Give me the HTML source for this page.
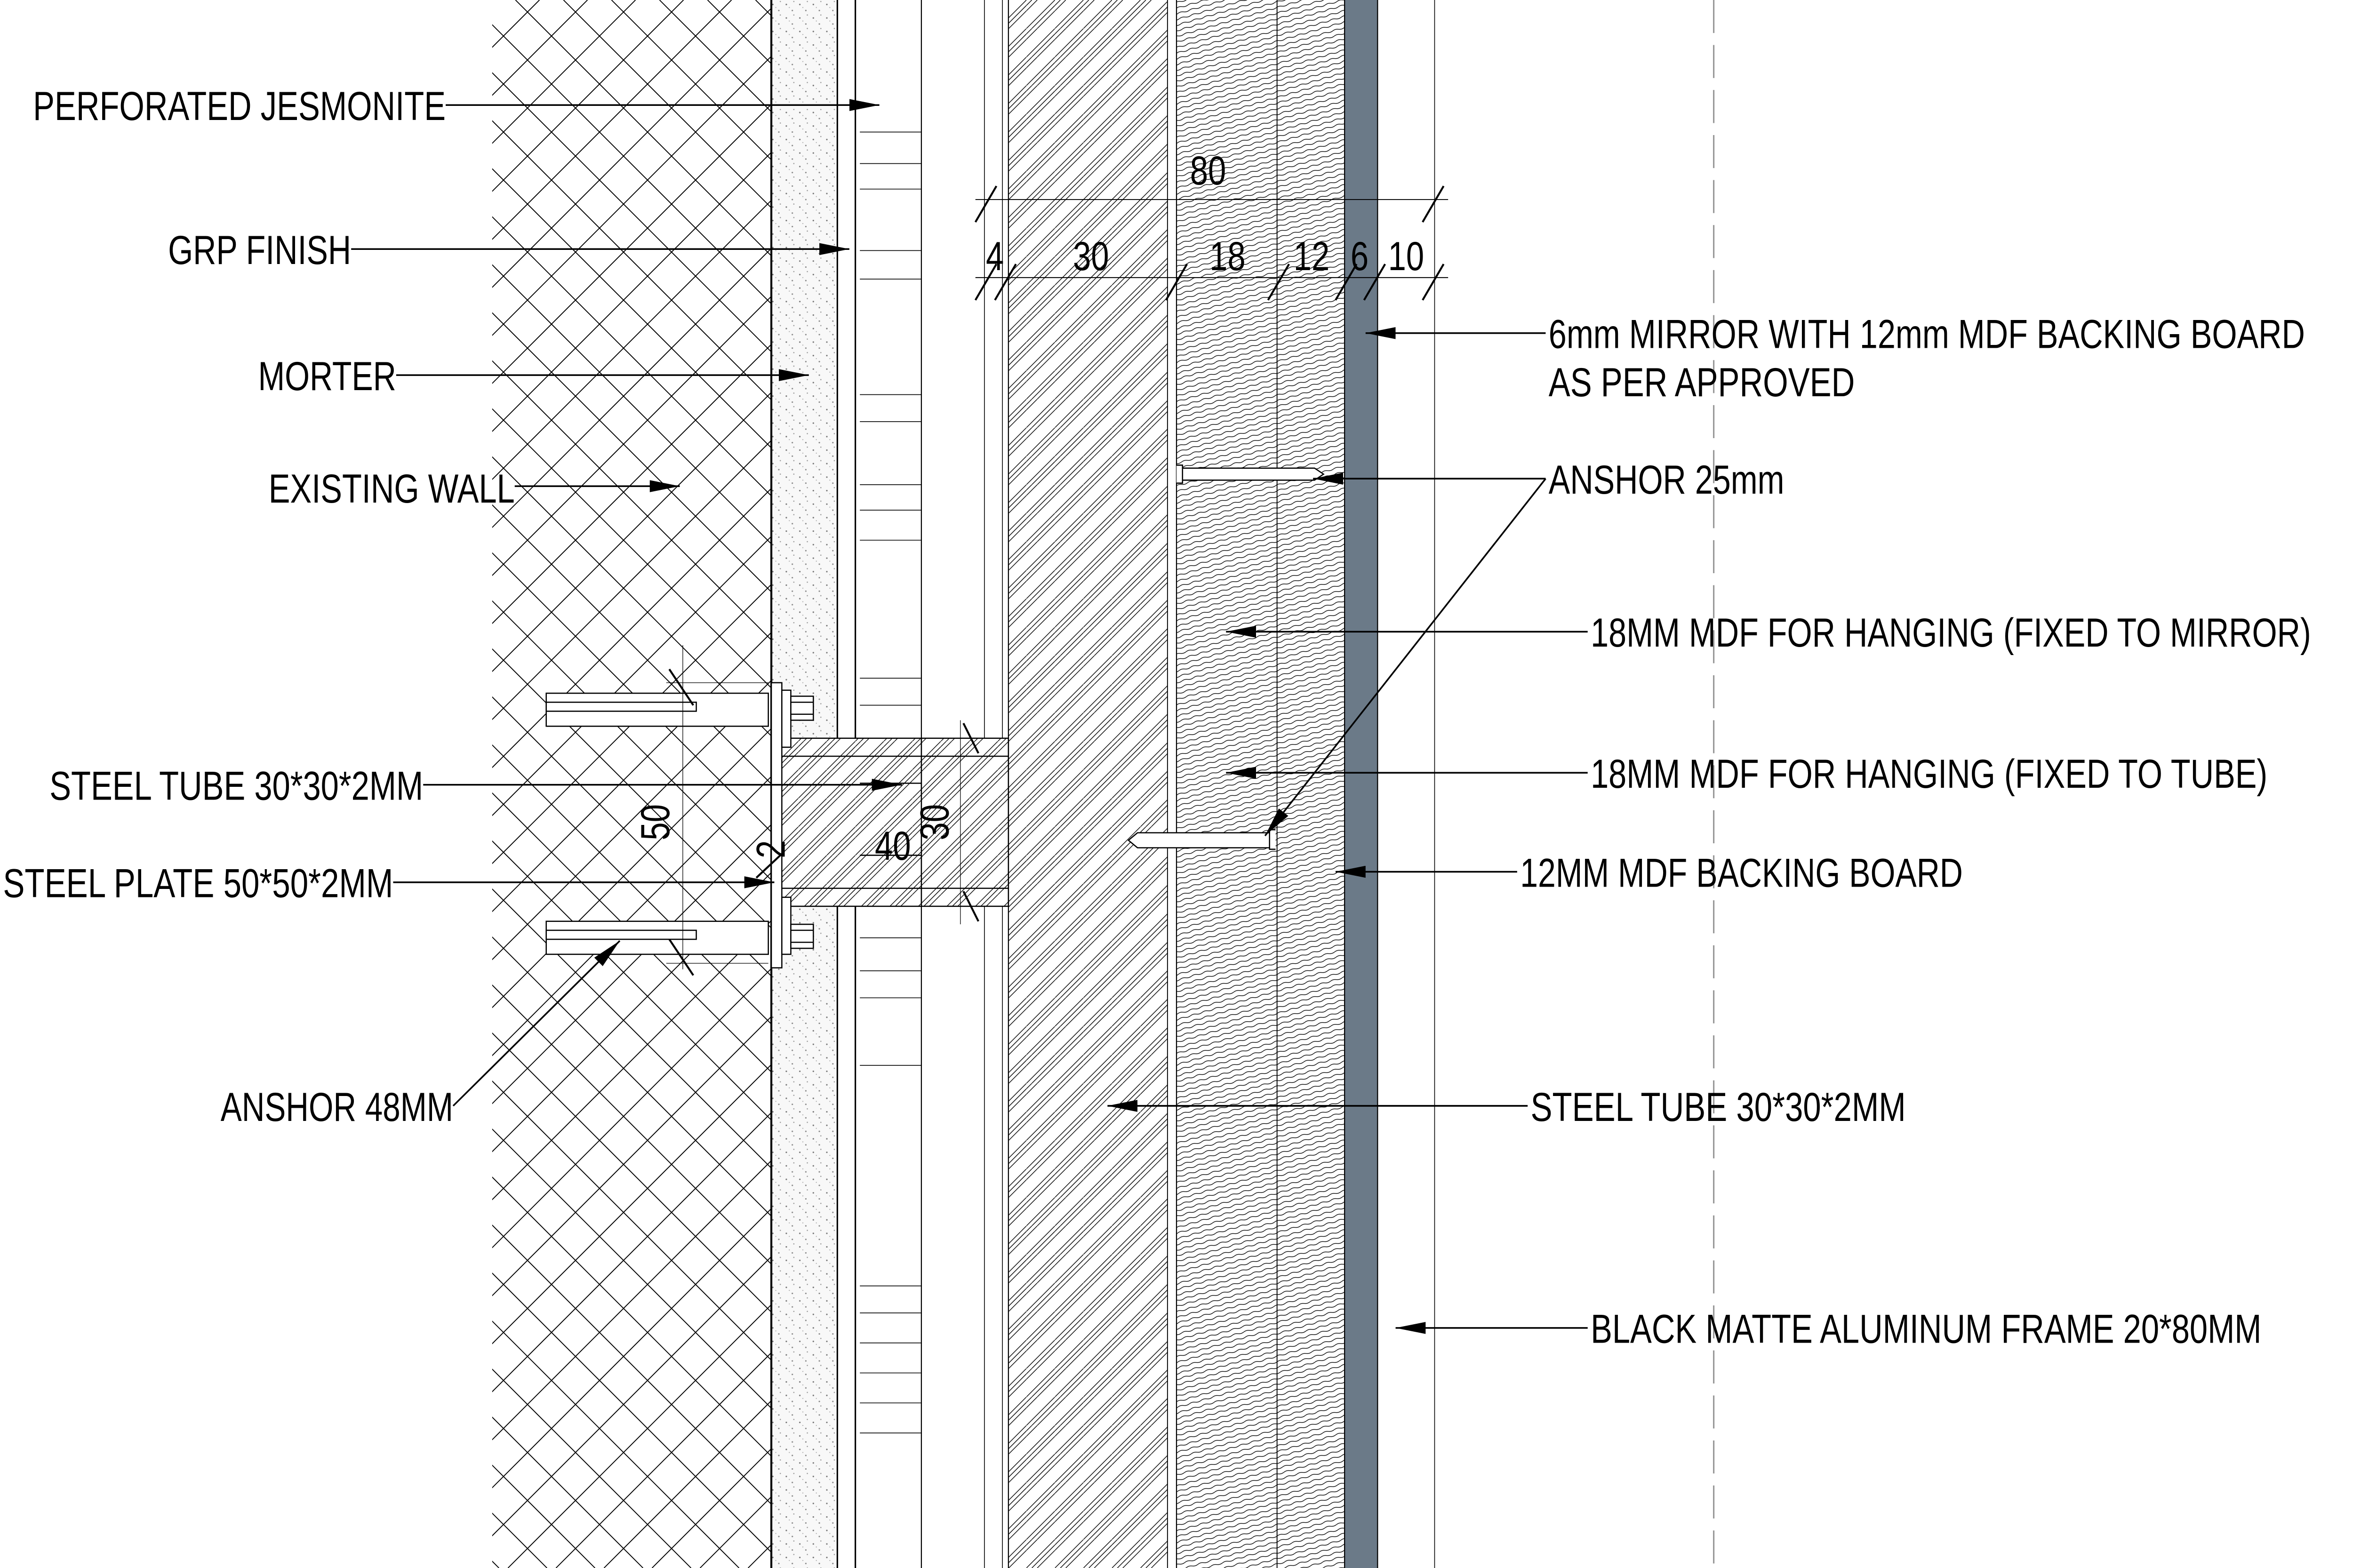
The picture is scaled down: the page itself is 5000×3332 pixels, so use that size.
<!DOCTYPE html>
<html><head><meta charset="utf-8"><style>html,body{margin:0;padding:0;background:#fff}svg{display:block}</style></head><body>
<svg xmlns="http://www.w3.org/2000/svg" width="5000" height="3332" viewBox="0 0 1568 1045" preserveAspectRatio="none">
<defs>
<clipPath id="wallc"><rect x="328" y="0" width="186" height="1045"/></clipPath>
<pattern id="st" width="19" height="19" patternUnits="userSpaceOnUse">
<path d="M0,0.01L0.01,0M0,3.6L3.6,0M0,7.2L7.2,0M0,19L19,0M3.6,19L19,3.6M7.2,19L19,7.2" stroke="#000" stroke-width="0.45" fill="none"/>
</pattern>
<pattern id="md" width="8" height="3.6" patternUnits="userSpaceOnUse" patternTransform="rotate(-16)">
<path d="M0,1.8 Q2,0.9 4,1.8 T8,1.8" stroke="#000" stroke-width="0.45" fill="none"/>
</pattern>
<pattern id="dots" width="9" height="9" patternUnits="userSpaceOnUse">
<rect width="9" height="9" fill="#f8f8f8"/>
<circle cx="2" cy="3" r="0.5" fill="#777"/><circle cx="6" cy="7" r="0.5" fill="#888"/><circle cx="7" cy="1" r="0.4" fill="#999"/><circle cx="4" cy="5" r="0.35" fill="#aaa"/>
</pattern>
<marker id="ar" viewBox="0 0 20 8" refX="20" refY="4" markerWidth="20" markerHeight="8" markerUnits="userSpaceOnUse" orient="auto">
<path d="M0,0L20,4L0,8Z" fill="#000"/>
</marker>
</defs>
<rect width="1568" height="1045" fill="#fff"/>
<g clip-path="url(#wallc)" stroke="#000" stroke-width="0.6" fill="none">
<path d="M503.5,0l1045,1045M471.5,0l1045,1045M439.5,0l1045,1045M407.5,0l1045,1045M375.5,0l1045,1045M343.5,0l1045,1045M311.5,0l1045,1045M279.5,0l1045,1045M247.5,0l1045,1045M215.5,0l1045,1045M183.5,0l1045,1045M151.5,0l1045,1045M119.5,0l1045,1045M87.5,0l1045,1045M55.5,0l1045,1045M23.5,0l1045,1045M-8.5,0l1045,1045M-40.5,0l1045,1045M-72.5,0l1045,1045M-104.5,0l1045,1045M-136.5,0l1045,1045M-168.5,0l1045,1045M-200.5,0l1045,1045M-232.5,0l1045,1045M-264.5,0l1045,1045M-296.5,0l1045,1045M-328.5,0l1045,1045M-360.5,0l1045,1045M-392.5,0l1045,1045M-424.5,0l1045,1045M-456.5,0l1045,1045M-488.5,0l1045,1045M-520.5,0l1045,1045M-552.5,0l1045,1045M-584.5,0l1045,1045M-616.5,0l1045,1045M-648.5,0l1045,1045M-680.5,0l1045,1045M-712.5,0l1045,1045M-744.5,0l1045,1045"/>
<path d="M327.5,0l-1045,1045M359.5,0l-1045,1045M391.5,0l-1045,1045M423.5,0l-1045,1045M455.5,0l-1045,1045M487.5,0l-1045,1045M519.5,0l-1045,1045M551.5,0l-1045,1045M583.5,0l-1045,1045M615.5,0l-1045,1045M647.5,0l-1045,1045M679.5,0l-1045,1045M711.5,0l-1045,1045M743.5,0l-1045,1045M775.5,0l-1045,1045M807.5,0l-1045,1045M839.5,0l-1045,1045M871.5,0l-1045,1045M903.5,0l-1045,1045M935.5,0l-1045,1045M967.5,0l-1045,1045M999.5,0l-1045,1045M1031.5,0l-1045,1045M1063.5,0l-1045,1045M1095.5,0l-1045,1045M1127.5,0l-1045,1045M1159.5,0l-1045,1045M1191.5,0l-1045,1045M1223.5,0l-1045,1045M1255.5,0l-1045,1045M1287.5,0l-1045,1045M1319.5,0l-1045,1045M1351.5,0l-1045,1045M1383.5,0l-1045,1045M1415.5,0l-1045,1045M1447.5,0l-1045,1045M1479.5,0l-1045,1045M1511.5,0l-1045,1045M1543.5,0l-1045,1045M1575.5,0l-1045,1045"/>
</g>
<rect x="514" y="0" width="44" height="1045" fill="url(#dots)"/>
<rect x="672" y="0" width="106" height="1045" fill="url(#st)"/>
<rect x="784" y="0" width="112" height="1045" fill="url(#md)"/>
<rect x="896" y="0" width="22" height="1045" fill="#6b7a88"/>
<g stroke="#000" fill="none">
<line x1="514" y1="0" x2="514" y2="1045" stroke-width="1.3"/>
<line x1="558" y1="0" x2="558" y2="1045" stroke-width="1"/>
<line x1="570" y1="0" x2="570" y2="1045" stroke-width="1"/>
<line x1="614" y1="0" x2="614" y2="1045" stroke-width="0.7"/>
<line x1="656" y1="0" x2="656" y2="1045" stroke-width="0.5"/>
<line x1="668" y1="0" x2="668" y2="1045" stroke-width="0.5"/>
<line x1="672" y1="0" x2="672" y2="1045" stroke-width="0.7"/>
<line x1="778" y1="0" x2="778" y2="1045" stroke-width="0.6"/>
<line x1="784" y1="0" x2="784" y2="1045" stroke-width="0.7"/>
<line x1="851" y1="0" x2="851" y2="1045" stroke-width="0.6"/>
<line x1="896" y1="0" x2="896" y2="1045" stroke-width="0.7"/>
<line x1="918" y1="0" x2="918" y2="1045" stroke-width="0.7"/>
<line x1="956" y1="0" x2="956" y2="1045" stroke-width="0.5"/>
<line x1="1142" y1="0" x2="1142" y2="1045" stroke="#999" stroke-width="1" stroke-dasharray="22,8"/>
<path stroke-width="0.5" d="M573,88H614M573,109H614M573,126H614M573,167H614M573,186H614M573,263H614M573,281H614M573,323H614M573,340H614M573,360H614M573,452H614M573,470H614M573,625H614M573,647H614M573,665H614M573,710H614M573,857H614M573,875H614M573,895H614M573,915H614M573,935H614M573,955H614"/>
</g>
<rect x="520" y="492" width="152" height="112" fill="#fff"/>
<rect x="520" y="492" width="152" height="112" fill="url(#st)"/>
<g stroke="#000" fill="none" stroke-width="0.8">
<rect x="520" y="492" width="152" height="112"/>
<line x1="520" y1="504" x2="672" y2="504"/><line x1="520" y1="592" x2="672" y2="592"/>
<line x1="520" y1="492" x2="520" y2="604"/>
<line x1="573" y1="522" x2="614" y2="522"/><line x1="573" y1="570" x2="614" y2="570"/>
<line x1="614" y1="492" x2="614" y2="604"/>
<rect x="514" y="455" width="7" height="190" fill="#fff"/>
<rect x="521" y="460" width="6" height="38" fill="#fff"/><rect x="521" y="598" width="6" height="38" fill="#fff"/>
<rect x="364" y="462" width="148" height="22" fill="#fff"/><rect x="364" y="468" width="100" height="6"/>
<rect x="527" y="464" width="15" height="16" fill="#fff"/><line x1="527" y1="468" x2="542" y2="468"/><line x1="527" y1="476" x2="542" y2="476"/>
<rect x="364" y="614" width="148" height="22" fill="#fff"/><rect x="364" y="620" width="100" height="6"/>
<rect x="527" y="616" width="15" height="16" fill="#fff"/><line x1="527" y1="620" x2="542" y2="620"/><line x1="527" y1="628" x2="542" y2="628"/>
<line x1="455" y1="430" x2="455" y2="646" stroke-width="0.4"/>
<line x1="444" y1="455" x2="512" y2="455" stroke-width="0.4"/><line x1="444" y1="642" x2="512" y2="642" stroke-width="0.4"/>
<line x1="446" y1="446" x2="462" y2="470" stroke-width="1.3"/><line x1="446" y1="626" x2="462" y2="650" stroke-width="1.3"/>
<line x1="642" y1="482" x2="652" y2="502" stroke-width="1.3"/><line x1="642" y1="594" x2="652" y2="614" stroke-width="1.3"/>
<line x1="504" y1="585" x2="520" y2="570" stroke-width="1.3"/>
<line x1="640" y1="480" x2="640" y2="616" stroke-width="0.4"/>
<path d="M784,310H788V322H784M788,312H876L882,316L876,320H788" fill="#fff"/>
<path d="M850,553H846V566H850M846,555H758L752,560L758,565H846" fill="#fff"/>
<g stroke-width="0.6"><line x1="650" y1="133" x2="965" y2="133"/><line x1="650" y1="185" x2="965" y2="185"/></g>
<g stroke-width="1.3"><path d="M650,148L664,124M948,148L962,124M650,200L664,176M663,200L677,176M777,200L791,176M845,200L859,176M890,200L904,176M909,200L923,176M948,200L962,176"/></g>
</g>
<g stroke="#000" stroke-width="1.1" fill="none" marker-end="url(#ar)">
<line x1="297" y1="70" x2="586" y2="70"/>
<line x1="234" y1="166" x2="566" y2="166"/>
<line x1="264" y1="250" x2="539" y2="250"/>
<line x1="343" y1="324" x2="453" y2="324"/>
<line x1="1030" y1="222" x2="910" y2="222"/>
<line x1="1030" y1="319" x2="875" y2="319"/>
<line x1="1030" y1="319" x2="843" y2="557"/>
<line x1="1058" y1="421" x2="817" y2="421"/>
<line x1="1058" y1="515" x2="817" y2="515"/>
<line x1="1011" y1="581" x2="890" y2="581"/>
<line x1="1018" y1="737" x2="738" y2="737"/>
<line x1="1058" y1="885" x2="930" y2="885"/>
<line x1="282" y1="523" x2="601" y2="523"/>
<line x1="262" y1="588" x2="516" y2="588"/>
<line x1="302" y1="737" x2="413" y2="627"/>
</g>
<g font-family="'Liberation Sans',sans-serif" font-size="27" fill="#000">
<text x="22" y="80" textLength="275" lengthAdjust="spacingAndGlyphs">PERFORATED JESMONITE</text>
<text x="112" y="176" textLength="122" lengthAdjust="spacingAndGlyphs">GRP FINISH</text>
<text x="172" y="260" textLength="92" lengthAdjust="spacingAndGlyphs">MORTER</text>
<text x="179" y="335" textLength="164" lengthAdjust="spacingAndGlyphs">EXISTING WALL</text>
<text x="33" y="533" textLength="249" lengthAdjust="spacingAndGlyphs">STEEL TUBE 30*30*2MM</text>
<text x="2" y="598" textLength="260" lengthAdjust="spacingAndGlyphs">STEEL PLATE 50*50*2MM</text>
<text x="147" y="747" textLength="155" lengthAdjust="spacingAndGlyphs">ANSHOR 48MM</text>
<text x="1032" y="232" textLength="504" lengthAdjust="spacingAndGlyphs">6mm MIRROR WITH 12mm MDF BACKING BOARD</text>
<text x="1032" y="264" textLength="204" lengthAdjust="spacingAndGlyphs">AS PER APPROVED</text>
<text x="1032" y="329" textLength="157" lengthAdjust="spacingAndGlyphs">ANSHOR 25mm</text>
<text x="1060" y="431" textLength="480" lengthAdjust="spacingAndGlyphs">18MM MDF FOR HANGING (FIXED TO MIRROR)</text>
<text x="1060" y="525" textLength="451" lengthAdjust="spacingAndGlyphs">18MM MDF FOR HANGING (FIXED TO TUBE)</text>
<text x="1013" y="591" textLength="295" lengthAdjust="spacingAndGlyphs">12MM MDF BACKING BOARD</text>
<text x="1020" y="747" textLength="250" lengthAdjust="spacingAndGlyphs">STEEL TUBE 30*30*2MM</text>
<text x="1060" y="895" textLength="447" lengthAdjust="spacingAndGlyphs">BLACK MATTE ALUMINUM FRAME 20*80MM</text>
<text x="793" y="123" textLength="24" lengthAdjust="spacingAndGlyphs">80</text>
<text x="657" y="180" textLength="12" lengthAdjust="spacingAndGlyphs">4</text>
<text x="715" y="180" textLength="24" lengthAdjust="spacingAndGlyphs">30</text>
<text x="806" y="180" textLength="24" lengthAdjust="spacingAndGlyphs">18</text>
<text x="862" y="180" textLength="24" lengthAdjust="spacingAndGlyphs">12</text>
<text x="900" y="180" textLength="12" lengthAdjust="spacingAndGlyphs">6</text>
<text x="925" y="180" textLength="24" lengthAdjust="spacingAndGlyphs">10</text>
<text x="583" y="573" textLength="24" lengthAdjust="spacingAndGlyphs">40</text>
<text transform="translate(446,560) rotate(-90)" textLength="24" lengthAdjust="spacingAndGlyphs">50</text>
<text transform="translate(523,572) rotate(-90)" textLength="12" lengthAdjust="spacingAndGlyphs">2</text>
<text transform="translate(632,560) rotate(-90)" textLength="24" lengthAdjust="spacingAndGlyphs">30</text>
</g>
</svg>
</body></html>
